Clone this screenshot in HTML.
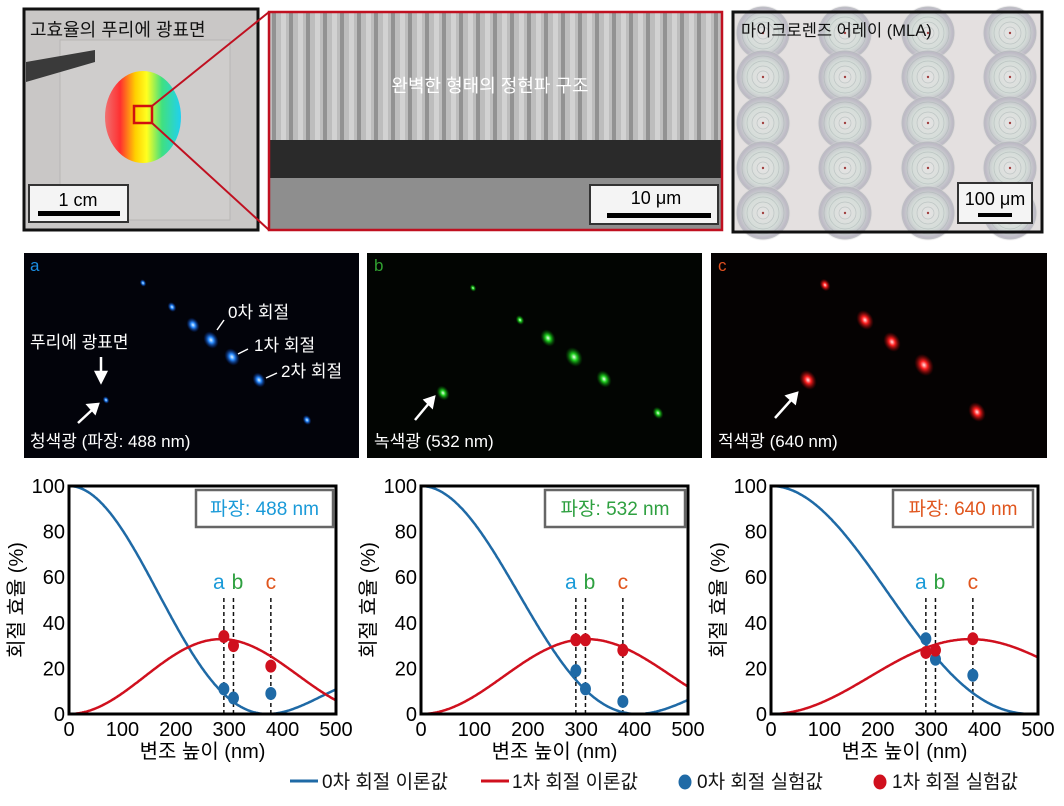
<!DOCTYPE html>
<html><head><meta charset="utf-8"><style>
html,body{margin:0;padding:0;background:#fff;}
svg{display:block;font-family:"Liberation Sans","Noto Sans CJK KR",sans-serif;}
</style></head><body>
<svg id="s" width="1064" height="806" viewBox="0 0 1064 806" xmlns="http://www.w3.org/2000/svg">
<defs>
<linearGradient id="rb" x1="0" y1="0" x2="1" y2="0">
<stop offset="0" stop-color="#f07070"/><stop offset="0.2" stop-color="#ff3030"/><stop offset="0.4" stop-color="#ffd000"/><stop offset="0.55" stop-color="#ffff20"/><stop offset="0.75" stop-color="#40e080"/><stop offset="1" stop-color="#20d0f0"/>
</linearGradient>
<pattern id="stripes" width="17" height="10" patternUnits="userSpaceOnUse">
<rect width="17" height="10" fill="#bdbdbd"/><rect x="0" width="4" height="10" fill="#929292"/><rect x="9" width="5" height="10" fill="#d2d2d2"/>
</pattern>
<radialGradient id="gb"><stop offset="0" stop-color="#dff4ff"/><stop offset="0.35" stop-color="#2a8cff"/><stop offset="1" stop-color="#0030a0" stop-opacity="0"/></radialGradient>
<radialGradient id="gg"><stop offset="0" stop-color="#eaffea"/><stop offset="0.35" stop-color="#20d020"/><stop offset="1" stop-color="#006000" stop-opacity="0"/></radialGradient>
<radialGradient id="gr"><stop offset="0" stop-color="#ffe0e0"/><stop offset="0.35" stop-color="#ff2020"/><stop offset="1" stop-color="#900000" stop-opacity="0"/></radialGradient>
<radialGradient id="lens"><stop offset="0" stop-color="#e6e4e4"/><stop offset="0.6" stop-color="#d4dcd8"/><stop offset="0.9" stop-color="#bcb8c4"/><stop offset="1" stop-color="#e6e2e2" stop-opacity="0"/></radialGradient>
</defs>

<rect x="24" y="9" width="234" height="221" fill="#c9c7c6" stroke="#111" stroke-width="3"/>
<rect x="60" y="40" width="170" height="180" fill="#cfcdcc" stroke="#b8b6b5"/>
<polygon points="26,62 95,50 95,62 26,82" fill="#3a3a3a"/>
<ellipse cx="143" cy="117" rx="38" ry="46" fill="url(#rb)"/>
<rect x="134" y="106" width="18" height="17" fill="none" stroke="#d01010" stroke-width="2.5"/>
<line x1="152" y1="106" x2="269" y2="12" stroke="#c01020" stroke-width="2"/>
<line x1="152" y1="123" x2="269" y2="230" stroke="#c01020" stroke-width="2"/>
<text x="30" y="36" font-size="18" fill="#111">고효율의 푸리에 광표면</text>
<rect x="29" y="185" width="99" height="37" fill="#f4f4f4" stroke="#333" stroke-width="2"/>
<text x="78" y="206" font-size="18" text-anchor="middle" fill="#000">1 cm</text>
<rect x="38" y="211" width="82" height="5" fill="#000"/>

<rect x="269" y="12" width="453" height="218" fill="#8c8c8c"/>
<rect x="269" y="12" width="453" height="130" fill="url(#stripes)"/>
<rect x="269" y="140" width="453" height="38" fill="#2a2a2a"/>
<rect x="269" y="178" width="453" height="52" fill="#8e8e8e"/>
<rect x="269" y="12" width="453" height="218" fill="none" stroke="#c01020" stroke-width="2.5"/>
<text x="490" y="92" font-size="18" fill="#fff" text-anchor="middle">완벽한 형태의 정현파 구조</text>
<rect x="590" y="185" width="128" height="39" fill="#f4f4f4" stroke="#333" stroke-width="2"/>
<text x="656" y="204" font-size="18" text-anchor="middle" fill="#000">10 μm</text>
<rect x="607" y="213" width="104" height="5" fill="#000"/>

<rect x="733" y="12" width="309" height="220" fill="#e4e0e0"/>
<g id="lenses"></g>
<rect x="733" y="12" width="309" height="220" fill="none" stroke="#111" stroke-width="3"/>
<text x="741" y="36" font-size="16.5" fill="#111">마이크로렌즈 어레이 (MLA)</text>
<rect x="958" y="183" width="74" height="40" fill="#f4f4f4" stroke="#333" stroke-width="2"/>
<text x="995" y="205" font-size="18" text-anchor="middle" fill="#000">100 μm</text>
<rect x="978" y="213" width="34" height="4" fill="#000"/>

<rect x="24" y="253" width="335" height="205" fill="#02030a"/>
<rect x="367" y="253" width="335" height="205" fill="#020502"/>
<rect x="711" y="253" width="336" height="205" fill="#050202"/>
<g id="spots"></g>
<text x="30" y="271" font-size="17" fill="#1a8ce0">a</text>
<text x="374" y="271" font-size="17" fill="#30a030">b</text>
<text x="718" y="271" font-size="17" fill="#e05020">c</text>
<g fill="#fff" font-size="17">
<text x="228" y="318">0차 회절</text>
<text x="254" y="351">1차 회절</text>
<text x="281" y="377">2차 회절</text>
<text x="30" y="348">푸리에 광표면</text>
<text x="30" y="447">청색광 (파장: 488 nm)</text>
<text x="374" y="447">녹색광 (532 nm)</text>
<text x="718" y="447">적색광 (640 nm)</text>
</g>
<g stroke="#fff" stroke-width="2.5" fill="#fff">
<line x1="101" y1="357" x2="101" y2="374"/><polygon points="96,372 106,372 101,382"/>
<line x1="78" y1="423" x2="92" y2="410"/><polygon points="88,405 98,404 95,413"/>
<line x1="415" y1="420" x2="430" y2="402"/><polygon points="425,400 434,397 432,407"/>
<line x1="775" y1="418" x2="792" y2="399"/><polygon points="787,396 797,393 795,403"/>
</g>
<g stroke="#fff" stroke-width="1.5" fill="none">
<line x1="224" y1="320" x2="217" y2="330"/><line x1="248" y1="349" x2="238" y2="354"/><line x1="277" y1="373" x2="266" y2="378"/>
</g>

<g id="plots"></g>

<g font-size="19" fill="#111">
<line x1="290" y1="781" x2="318" y2="781" stroke="#1f6aa6" stroke-width="3"/>
<text x="322" y="788">0차 회절 이론값</text>
<line x1="481" y1="781" x2="509" y2="781" stroke="#d0101e" stroke-width="3"/>
<text x="512" y="788">1차 회절 이론값</text>
<ellipse cx="685" cy="782" rx="6.5" ry="7.5" fill="#1f6aa6"/>
<text x="697" y="788">0차 회절 실험값</text>
<ellipse cx="880" cy="782" rx="6.5" ry="7.5" fill="#d0101e"/>
<text x="892" y="788">1차 회절 실험값</text>
</g>
</svg>
<script>
var NS="http://www.w3.org/2000/svg";
function el(p,t,a,txt){var e=document.createElementNS(NS,t);for(var k in a)e.setAttribute(k,a[k]);if(txt!==undefined)e.textContent=txt;p.appendChild(e);return e;}
var L=document.getElementById('lenses');
[763,845,928,1010].forEach(function(x){[33,77,123,168,213].forEach(function(y){
el(L,'circle',{cx:x,cy:y,r:28,fill:'url(#lens)'});
for(var r=6;r<27;r+=5)el(L,'circle',{cx:x,cy:y,r:r,fill:'none',stroke:'#a8b2b2','stroke-width':0.7,opacity:0.6});
el(L,'circle',{cx:x,cy:y,r:1.2,fill:'#a04040'});
});});
var S=document.getElementById('spots');
function sp(list,g){list.forEach(function(p){el(S,'ellipse',{cx:p[0],cy:p[1],rx:p[2]||6,ry:(p[2]||6)*1.3,fill:'url(#'+g+')',transform:'rotate(-30 '+p[0]+' '+p[1]+')'});});}
sp([[143,283,3],[172,307,4],[193,325,6],[211,340,7],[232,357,7],[259,380,6],[307,420,4],[106,400,3]],'gb');
sp([[473,288,3],[520,320,4],[548,338,7],[574,357,8],[604,379,7],[658,413,5],[443,393,6]],'gg');
sp([[825,285,5],[865,320,8],[892,342,8],[924,365,9],[977,412,8],[808,380,8]],'gr');
function fact(n){var f=1;for(var i=2;i<=n;i++)f*=i;return f;}
function J(n,x){var s=0;for(var m=0;m<25;m++)s+=Math.pow(-1,m)*Math.pow(x/2,2*m+n)/(fact(m)*fact(m+n));return s;}
var P=document.getElementById('plots');
var cfg=[
{x0:69,lam:488,col:'#1a9ad8',lab:'파장: 488 nm',bx:196,bw:137,pts:[[290,34,11],[308,30,7],[378,21,9]]},
{x0:421,lam:532,col:'#2ea040',lab:'파장: 532 nm',bx:545,bw:140,pts:[[290,32.5,19],[308,32.5,11],[378,28,5.5]]},
{x0:771,lam:640,col:'#e0561e',lab:'파장: 640 nm',bx:893,bw:140,pts:[[290,27,33],[308,28,24],[378,33,17]]}
];
var W=267,Y0=714,H=228;
cfg.forEach(function(c){
var g=el(P,'g',{});
function X(v){return c.x0+v/500*W;} function Yv(v){return Y0-v/100*H;}
var k=2.405/(372*c.lam/488);
var d0='',d1='';
for(var h=0;h<=500;h+=2){var a=J(0,k*h),b=J(1,k*h);d0+=(h?'L':'M')+X(h).toFixed(1)+','+Yv(100*a*a).toFixed(1);d1+=(h?'L':'M')+X(h).toFixed(1)+','+Yv(97*b*b).toFixed(1);}
[[290,'a','#1a9ad8'],[308,'b','#2ea040'],[378,'c','#e0561e']].forEach(function(q,i){
el(g,'line',{x1:X(q[0]),y1:Y0,x2:X(q[0]),y2:Yv(52),stroke:'#111','stroke-width':1.5,'stroke-dasharray':'4,3'});
el(g,'text',{x:X(q[0])+(i==0?-5:i==1?4:0),y:Yv(53)-4,'font-size':21,fill:q[2],'text-anchor':'middle'},q[1]);
});
el(g,'path',{d:d0,fill:'none',stroke:'#1f6aa6','stroke-width':2.5});
el(g,'path',{d:d1,fill:'none',stroke:'#d0101e','stroke-width':2.5});
c.pts.forEach(function(p){
el(g,'ellipse',{cx:X(p[0]),cy:Yv(p[2]),rx:5.5,ry:6.5,fill:'#1f6aa6'});
el(g,'ellipse',{cx:X(p[0]),cy:Yv(p[1]),rx:5.5,ry:6.5,fill:'#d0101e'});
});
el(g,'rect',{x:c.x0,y:Y0-H,width:W,height:H,fill:'none',stroke:'#000','stroke-width':3});
for(var v=0;v<=100;v+=20)el(g,'text',{x:c.x0-4,y:Yv(v)+7,'font-size':20,'text-anchor':'end',fill:'#000'},String(v));
for(var v=0;v<=500;v+=100)el(g,'text',{x:X(v),y:Y0+22,'font-size':20,'text-anchor':'middle',fill:'#000'},String(v));
el(g,'text',{x:c.x0+W/2,y:Y0+44,'font-size':20,'text-anchor':'middle',fill:'#000'},'변조 높이 (nm)');
el(g,'text',{x:0,y:0,'font-size':20,'text-anchor':'middle',fill:'#000',transform:'translate('+(c.x0-46)+','+(Y0-H/2)+') rotate(-90)'},'회절 효율 (%)');
el(g,'rect',{x:c.bx,y:490,width:c.bw,height:37,fill:'#fff',stroke:'#666','stroke-width':2.5});
el(g,'text',{x:c.bx+c.bw/2,y:515,'font-size':19,'text-anchor':'middle',fill:c.col},c.lab);
});
</script>
</body></html>
